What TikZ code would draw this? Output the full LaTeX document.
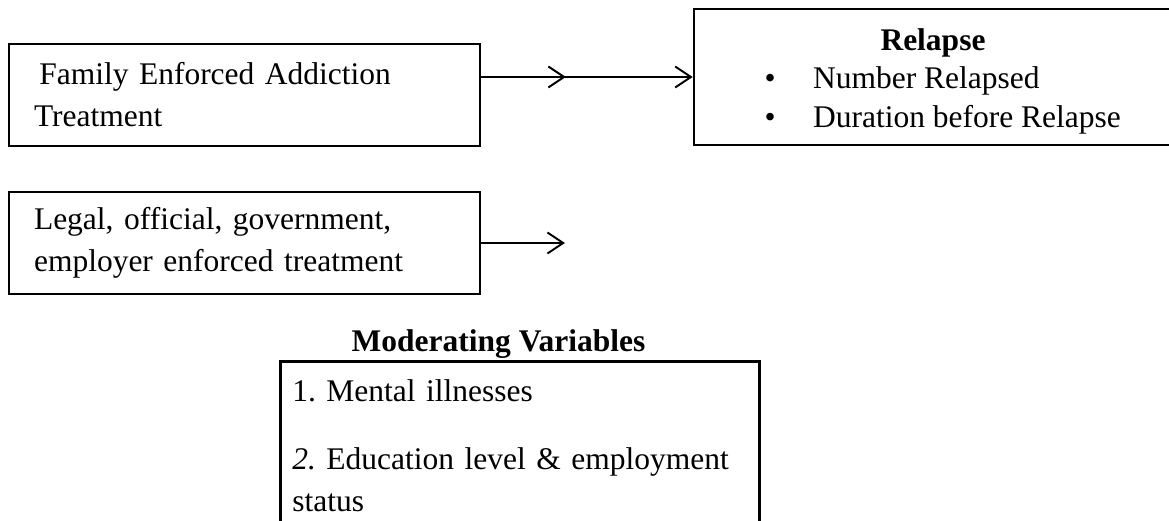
\documentclass[tikz,border=0pt]{standalone}
\usepackage{fontspec}
\setmainfont{Liberation Serif}
\usetikzlibrary{arrows.meta,decorations.markings}
\newcommand{\boxfont}{\fontsize{12}{16}\selectfont\frenchspacing}
\tikzset{
  varbox/.style={draw=black, line width=1pt, minimum width=6.307cm, minimum height=1.366cm,
                 text width=5.637cm, align=left, inner xsep=0.335cm},
  effarr/.style={-{Straight Barb[length=6pt, width=8pt]}, line width=0.75pt},
  midarr/.style={effarr, postaction={decorate, decoration={markings,
      mark=at position 0.4 with {\arrow{Straight Barb[length=6pt, width=8pt]}}}}},
  vtitle/.style={font=\boxfont\bfseries},
}
\begin{document}
\begin{tikzpicture}[font=\boxfont]
  \useasboundingbox (0,0) rectangle (15.653,-6.976);
  % independent variables
  \node[varbox] (family) at (3.274,-1.272) {\hspace*{2pt}Family Enforced Addiction\\Treatment};
  \node[varbox] (legal) at (3.274,-3.254) {Legal, official, government,\\employer enforced treatment};
  % dependent variable
  \node[draw, line width=1pt, minimum width=6.4cm, minimum height=1.821cm, inner sep=0pt] (relapse) at (12.493,-1.031)
    {\fontsize{12}{14.7}\selectfont
     \raisebox{-1.6pt}[\height][\depth]{%
     \begin{tabular}{@{\hspace{7.4pt}}c@{\hspace{14.3pt}}l@{}}
       \multicolumn{2}{@{}c@{}}{\textbf{Relapse}}\\
       \textbullet & Number Relapsed\\
       \textbullet & Duration before Relapse
     \end{tabular}}};
  \coordinate (legalend) at (7.565,-3.254);
  \draw[midarr] (family.east |- relapse.west) -- (relapse.west);
  \draw[effarr] (legal.east) -- (legalend);
  % moderators
  \node[vtitle, anchor=base] (modtitle) at (6.675,-4.713) {Moderating Variables};
  \node[draw, line width=1pt, anchor=north west, text width=6.092cm, align=left,
        inner xsep=0.161cm, inner ysep=7pt] (moder) at (3.736,-4.820)
    {1. Mental illnesses\\[9.9pt]\textit{2.} Education level \& employment\\status};
\end{tikzpicture}
\end{document}
